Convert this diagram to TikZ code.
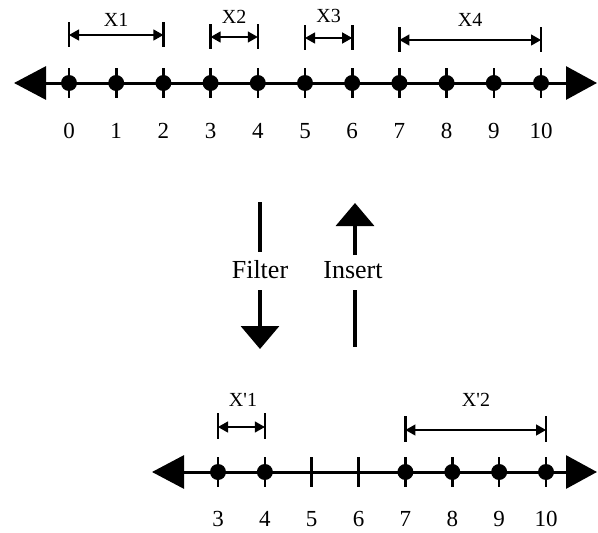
\documentclass[tikz,border=0pt]{standalone}
\usepackage{fontspec}
\setmainfont{Liberation Serif}
\usetikzlibrary{arrows.meta}
\begin{document}
\begin{tikzpicture}[x=1pt,y=-1pt,
  axis/.style={line width=3pt,{Triangle[length=32pt,width=33pt]}-{Triangle[length=31pt,width=33pt]}},
  tickmark/.style={line width=2.6pt},
  dot/.style={circle,fill=black,inner sep=0pt,minimum size=16pt},
  num/.style={font=\fontsize{23}{23}\selectfont,inner sep=0pt},
  lbl/.style={font=\fontsize{20}{20}\selectfont,inner sep=0pt},
  big/.style={font=\fontsize{26}{26}\selectfont,inner sep=0pt},
  interval/.style={line width=1.3pt,{Triangle[length=10pt,width=11pt]}-{Triangle[length=10pt,width=11pt]}},
  ibar/.style={line width=2.6pt},
  flow/.style={line width=3.5pt},
  flowhead/.style={line width=3.5pt,-{Triangle[length=23pt,width=38pt]}}
]
\useasboundingbox (0,0) rectangle (598,533);
% ---------- top axis ----------
\coordinate (TL) at (14,83);
\coordinate (TR) at (597,83);
\draw[axis] (TL) -- (TR);
\foreach \i in {0,...,10}{
  \coordinate (t\i) at ({69+47.2*\i},83);
  \draw[tickmark] ([yshift=15pt]t\i) -- ([yshift=-15pt]t\i);
  \node[dot] (d\i) at (t\i) {};
  \node[num] (n\i) at ({69+47.2*\i},131) {\i};
}
% intervals top
\foreach \a/\b/\y/\t/\ly in {0/2/35/X1/20, 3/4/37/X2/17, 5/6/38/X3/16, 7/10/40/X4/20}{
  \coordinate (\t l) at ({69+47.2*\a},\y);
  \coordinate (\t r) at ({69+47.2*\b},\y);
  \draw[ibar] ([yshift=13pt]\t l) -- ([yshift=-12pt]\t l);
  \draw[ibar] ([yshift=13pt]\t r) -- ([yshift=-12pt]\t r);
  \draw[interval] (\t l) -- (\t r);
  \node[lbl] (\t lab) at ({69+47.2*(\a+\b)/2},\ly) {\t};
}
% ---------- middle arrows ----------
\node[big] (filter) at (260,270) {Filter};
\node[big] (insert) at (353,270) {Insert};
\coordinate (f1) at (260,202);
\coordinate (f2) at (260,252);
\coordinate (f3) at (260,290);
\coordinate (f4) at (260,349);
\draw[flow] (f1) -- (f2);
\draw[flowhead] (f3) -- (f4);
\coordinate (i1) at (355,203);
\coordinate (i2) at (355,255);
\coordinate (i3) at (355,290);
\coordinate (i4) at (355,347);
\draw[flowhead] (i2) -- (i1);
\draw[flow] (i3) -- (i4);
% ---------- bottom axis ----------
\coordinate (BL) at (152,472);
\coordinate (BR) at (597,472);
\draw[axis] (BL) -- (BR);
\foreach \i in {3,...,10}{
  \coordinate (b\i) at ({218+46.86*(\i-3)},472);
  \draw[tickmark] ([yshift=15pt]b\i) -- ([yshift=-15pt]b\i);
  \node[num] (m\i) at ({218+46.86*(\i-3)},519) {\i};
}
\foreach \i in {3,4,7,8,9,10}{
  \node[dot] (e\i) at (b\i) {};
}
% intervals bottom
\foreach \a/\b/\y/\t/\ly in {3/4/427/P1/400, 7/10/430/P2/400}{
  \coordinate (\t l) at ({218+46.86*(\a-3)},\y);
  \coordinate (\t r) at ({218+46.86*(\b-3)},\y);
  \draw[ibar] ([yshift=14pt]\t l) -- ([yshift=-12pt]\t l);
  \draw[ibar] ([yshift=14pt]\t r) -- ([yshift=-12pt]\t r);
  \draw[interval] (\t l) -- (\t r);
}
\node[lbl] (P1lab) at (243,400) {X\textquotesingle 1};
\node[lbl] (P2lab) at (476,400) {X\textquotesingle 2};
\end{tikzpicture}
\end{document}
